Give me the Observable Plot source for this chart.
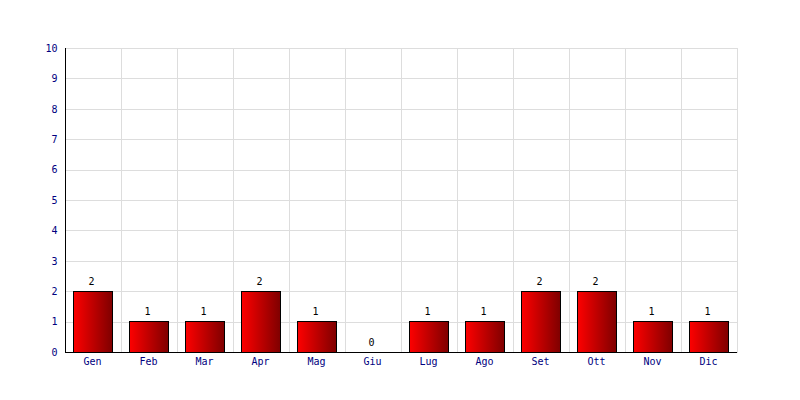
<!DOCTYPE html>
<html>
<head>
<meta charset="utf-8">
<script src="https://cdn.jsdelivr.net/npm/d3@7"></script>
<script src="https://cdn.jsdelivr.net/npm/@observablehq/plot@0.6"></script>
<style>
  html, body { margin: 0; padding: 0; background: #fff; }
  svg { font-family: "DejaVu Sans Mono", monospace; }
</style>
</head>
<body>
<div id="chart"></div>
<script>
const months = ["Gen","Feb","Mar","Apr","Mag","Giu","Lug","Ago","Set","Ott","Nov","Dic"];
const values = [2,1,1,2,1,0,1,1,2,2,1,1];
const yTicks = [0,1,2,3,4,5,6,7,8,9,10];

const data = months.map((m, i) => ({month: m, value: values[i]}));

function gradientDefs() {
  const ns = "http://www.w3.org/2000/svg";
  const g = document.createElementNS(ns, "defs");
  const lg = document.createElementNS(ns, "linearGradient");
  lg.setAttribute("id", "barGrad");
  lg.setAttribute("x1", "0"); lg.setAttribute("x2", "1");
  lg.setAttribute("y1", "0"); lg.setAttribute("y2", "0");
  [["0%", "#ff0000"], ["100%", "#800000"]].forEach(([o, c]) => {
    const s = document.createElementNS(ns, "stop");
    s.setAttribute("offset", o);
    s.setAttribute("stop-color", c);
    lg.appendChild(s);
  });
  g.appendChild(lg);
  return g;
}

const chart = Plot.plot({
  width: 800,
  height: 400,
  marginLeft: 65,
  marginRight: 63,
  marginTop: 48,
  marginBottom: 48,
  style: {fontFamily: "DejaVu Sans Mono, monospace", fontSize: "10px", background: "#fff"},
  x: {domain: months, padding: 0, label: null},
  y: {domain: [0, 10], label: null},
  marks: [
    gradientDefs,
    Plot.ruleY(yTicks, {stroke: "#dddddd", strokeWidth: 1, shapeRendering: "crispEdges"}),
    Plot.barY(data, {x: "month", y1: 0, y2: 10, fill: "none", stroke: "#dddddd", strokeWidth: 1, shapeRendering: "crispEdges"}),
    Plot.barY(data, {x: "month", y: "value", fill: "url(#barGrad)", stroke: "#000", strokeWidth: 1, insetLeft: 8, insetRight: 9, shapeRendering: "crispEdges"}),
    Plot.text(data, {x: "month", y: "value", text: d => String(d.value), dy: -10, dx: -2, fill: "#000", fontSize: 10}),
    Plot.axisY({ticks: yTicks, tickSize: 0, tickPadding: 8, color: "#000080", fontSize: 10}),
    Plot.axisX({tickSize: 0, tickPadding: 5, color: "#000080", fontSize: 10, dx: -1}),
    Plot.ruleX([0], {x: () => months[0], y1: 0, y2: 10, stroke: "#000", dx: -28, shapeRendering: "crispEdges"}),
    Plot.ruleY([0], {stroke: "#000", shapeRendering: "crispEdges"})
  ]
});
document.getElementById("chart").appendChild(chart);
</script>
</body>
</html>
